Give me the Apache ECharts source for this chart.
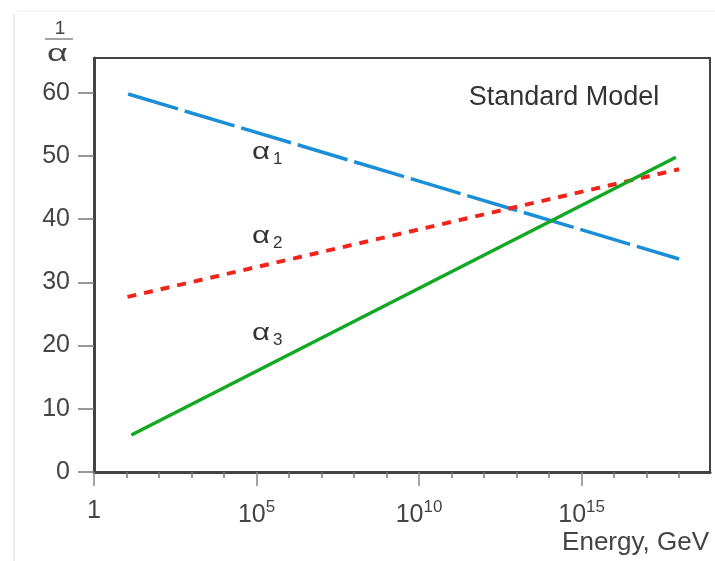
<!doctype html>
<html lang="en">
<head>
    <meta charset="UTF-8">
    <title>Standard Model couplings</title>
    <style>
        html, body { margin: 0; padding: 0; background: #fff; }
        #main { width: 715px; height: 561px; }
    </style>
</head>
<body>
<div id="main"></div>
<script type="text/javascript" src="https://cdn.jsdelivr.net/npm/echarts@6/dist/echarts.min.js"></script>
<script type="text/javascript">
    // log10(Energy/GeV) at both ends of each line, and 1/alpha there
    let alpha1Exp = [1.05, 18.0];
    let alpha1Val = [59.8, 33.7];
    let alpha2Exp = [1.03, 18.0];
    let alpha2Val = [27.7, 47.9];
    let alpha3Exp = [1.15, 17.9];
    let alpha3Val = [5.85, 49.8];

    let yTicks = [0, 10, 20, 30, 40, 50, 60];
    let xMajor = [0, 5, 10, 15];
    let xMinor = [1, 2, 3, 4, 6, 7, 8, 9, 11, 12, 13, 14, 16, 17, 18];

    function pairs(xs, ys) {
        return xs.map(function (x, i) { return [x, ys[i]]; });
    }

    let myChart = echarts.init(document.getElementById('main'));
    let font = 'Liberation Sans, Arial, sans-serif';
    // subscripted alpha label for a curve
    function alphaLabel(x, y, n) {
        return {
            type: 'group', x: x, y: y,
            children: [
                {type: 'text', x: 0, y: 0, scaleX: 1.35, style: {text: 'α', font: '23px ' + font, fill: '#333', verticalAlign: 'middle'}},
                {type: 'text', x: 21, y: 6, style: {text: n, font: '17px ' + font, fill: '#333', verticalAlign: 'middle'}}
            ]
        };
    }
    let option = {
        backgroundColor: '#fff',
        animation: false,
        grid: {
            left: 94, top: 58, right: 5, bottom: 89,
            show: true, borderColor: '#444', borderWidth: 2
        },
        xAxis: [{
            type: 'value', min: 0, max: 18.95,
            axisLine: {lineStyle: {color: '#444', width: 3}},
            axisTick: {customValues: xMajor, length: 14, lineStyle: {color: '#888', width: 1.5}},
            splitLine: {show: false},
            axisLabel: {
                customValues: xMajor, margin: 27, color: '#444', fontFamily: font, fontSize: 25,
                formatter: function (v) {
                    return v === 0 ? '1' : '10{sup|' + v + '}';
                },
                rich: {sup: {fontSize: 17, verticalAlign: 'top', padding: [0, 0, 16, 0], color: '#444', fontFamily: font}}
            }
        }, {
            type: 'value', min: 0, max: 18.95, position: 'bottom',
            axisLine: {show: false},
            axisTick: {customValues: xMinor, length: 6, lineStyle: {color: '#777', width: 1.5}},
            axisLabel: {show: false},
            splitLine: {show: false}
        }],
        yAxis: {
            type: 'value', min: 0, max: 65.5,
            axisLine: {lineStyle: {color: '#444', width: 3}},
            axisTick: {customValues: yTicks, length: 16, lineStyle: {color: '#777', width: 1.5}},
            splitLine: {show: false},
            axisLabel: {customValues: yTicks, margin: 24, color: '#444', fontFamily: font, fontSize: 25}
        },
        graphic: [
            {type: 'line', shape: {x1: 14, y1: 14, x2: 14, y2: 561}, style: {stroke: '#ddd', lineWidth: 1}},
            {type: 'line', shape: {x1: 17, y1: 11, x2: 715, y2: 11}, style: {stroke: '#eee', lineWidth: 1}},
            {type: 'text', x: 60, y: 29, style: {text: '1', font: '19px ' + font, fill: '#444', align: 'center', verticalAlign: 'middle'}},
            {type: 'line', shape: {x1: 45, y1: 39, x2: 73, y2: 39}, style: {stroke: '#666', lineWidth: 1.2}},
            {type: 'text', x: 47, y: 54, scaleX: 1.5, style: {text: 'α', font: '24px ' + font, fill: '#444', verticalAlign: 'middle'}},
            {type: 'text', x: 564, y: 98, style: {text: 'Standard Model', font: '27px ' + font, fill: '#333', align: 'center', verticalAlign: 'middle'}},
            {type: 'text', x: 709, y: 543, style: {text: 'Energy, GeV', font: '26px ' + font, fill: '#444', align: 'right', verticalAlign: 'middle'}},
            alphaLabel(252, 153, '1'),
            alphaLabel(252, 237, '2'),
            alphaLabel(252, 334, '3')
        ],
        series: [{
            name: 'alpha1', type: 'line', showSymbol: false, data: pairs(alpha1Exp, alpha1Val),
            lineStyle: {color: '#1a8fd8', width: 3.5, type: [52, 7]}
        }, {
            name: 'alpha2', type: 'line', showSymbol: false, data: pairs(alpha2Exp, alpha2Val),
            lineStyle: {color: '#f02418', width: 4, type: [9, 8]}
        }, {
            name: 'alpha3', type: 'line', showSymbol: false, data: pairs(alpha3Exp, alpha3Val),
            lineStyle: {color: '#12a823', width: 3.5}
        }]
    };
    myChart.setOption(option);
</script>
</body>
</html>
